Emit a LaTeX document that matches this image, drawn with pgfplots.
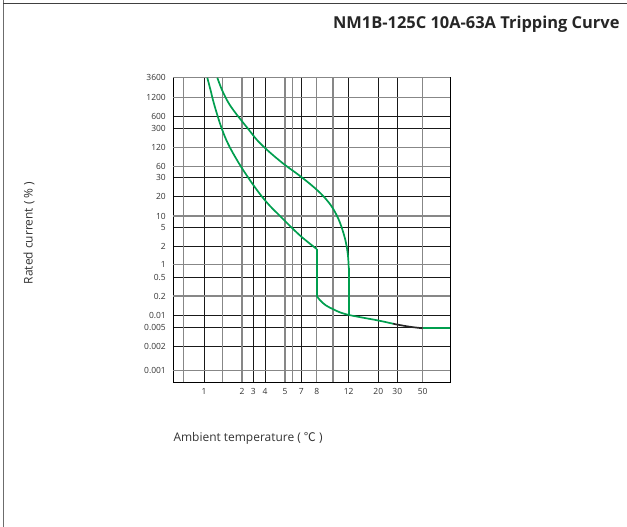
\documentclass[border=0pt]{standalone}
\usepackage{fontspec}
\setmainfont{Open Sans}
\newfontfamily\cjk{Noto Sans CJK SC}
\usepackage{pgfplots}
\pgfplotsset{compat=1.18}

\definecolor{curvegreen}{RGB}{0,158,78}
\definecolor{gridgray}{RGB}{135,135,135}
\definecolor{txt}{RGB}{51,51,51}

\begin{document}
\begin{tikzpicture}[x=1bp,y=1bp]
\path[use as bounding box] (0,0) rectangle (627,527);
% frame lines (top and left)
\draw[gridgray!80!black, line width=1.2bp] (3.5,527) -- (3.5,0);
\draw[black!75, line width=1bp] (3,523) -- (627,523);

\begin{axis}[
    at={(173.3bp,144.7bp)}, anchor=south west,
    scale only axis,
    width=277bp, height=304.6bp,
    xmin=173.3, xmax=450.3,
    ymin=144.7, ymax=449.3,
    axis line style={black, line width=0.9bp},
    major tick length=0pt,
    /pgf/number format/assume math mode=true,
    tick label style={font=\fontsize{8.5}{10}\selectfont, text=txt},
    xticklabel style={yshift=-3bp},
    yticklabel style={xshift=-4bp},
    grid=major,
    major grid style={black!90, line width=0.9bp},
    % black grid lines
    xtick={204,253.3,265,301.3,348.7,378.3,397.3},
    xticklabels={1,3,4,7,12,20,30},
    ytick={411,398.7,349.7,330.7,299.3,281,250,211.3,200,181},
    yticklabels={600,300,30,20,5,2,0.5,0.01,0.005,0.002},
    % gray grid lines
    extra x ticks={183.3,222.7,242,285,292.7,316.7,333,422.7},
    extra x tick labels={,,2,5,,8,,50},
    extra y ticks={449.3,429.7,379.3,360.3,311,262.7,231,156.3},
    extra y tick labels={3600,1200,120,60,10,1,0.2,0.001},
    extra tick style={grid=major, major grid style={gridgray, line width=1.3bp}},
    clip=false,
]
% upper curve
\addplot[curvegreen, line width=1.7bp, smooth, tension=0.6] coordinates {
    (217.3,449.3) (222,437) (228,425) (234,416) (241,407) (249,397)
    (257,387) (265,379) (274,371) (285,362) (296,354) (307,345.5)
    (317,337) (325,329) (332,320) (338,309) (342.5,297) (346,284)
    (348,271) (348.7,259)
};
\addplot[curvegreen, line width=1.7bp] coordinates {(348.7,259) (348.7,212)};
% lower curve
\addplot[curvegreen, line width=1.7bp, smooth, tension=0.6] coordinates {
    (207.3,449.3) (210.5,437) (213.5,425) (217,413) (220.5,402) (225,390)
    (230,379.3) (235.5,369.5) (241,360.3) (248,349.7) (254,341) (261.7,330.7)
    (270,321) (280,311) (290,301) (300,291.5) (309,284) (316.7,278)
};
\addplot[curvegreen, line width=1.7bp] coordinates {(316.7,278) (316.7,231)};
\addplot[curvegreen, line width=1.7bp, smooth, tension=0.6] coordinates {
    (316.7,231) (320,226.8) (326,221.5) (333.3,217.7) (340,214.6) (348.7,212)
};
% common tail
\addplot[curvegreen, line width=1.7bp, smooth, tension=0.5] coordinates {
    (348.7,212) (363,209.3) (378.3,206.5) (393,203.3)
};
\addplot[black!85, line width=1.7bp, smooth, tension=0.5] coordinates {
    (393,203.3) (397.3,202.4) (410,200.2) (422.7,198.7)
};
\addplot[curvegreen, line width=1.7bp] coordinates {(422.7,198.7) (450.3,198.7)};
\end{axis}

\node[anchor=east, font=\bfseries\fontsize{16.5}{19}\selectfont, text=black!85] at (623,503) {NM1B-125C 10A-63A Tripping Curve};
\node[rotate=90, font=\fontsize{12}{14}\selectfont, text=txt] at (29,294) {Rated current ( \% )};
\node[anchor=west, font=\fontsize{12}{15}\selectfont, text=txt] at (170,89) {Ambient temperature ( {\cjk ℃} )};
\end{tikzpicture}
\end{document}
